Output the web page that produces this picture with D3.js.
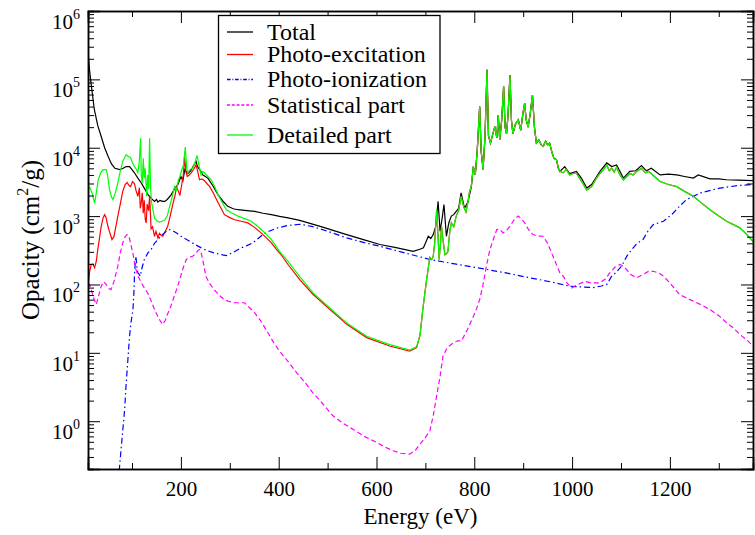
<!DOCTYPE html>
<html>
<head>
<meta charset="utf-8">
<script src="https://cdn.jsdelivr.net/npm/d3@7"></script>
<style>
  body { margin: 0; background: #fff; }
  svg { display: block; }
  svg text { font-family: 'Liberation Serif', 'Times New Roman', Times, serif; }
</style>
</head>
<body>
<div id="chart"></div>
<script>
// total opacity, below the bound-bound forest
const totalLowE = [10, 13, 17, 23, 30, 37, 44, 51, 58, 65, 75, 82, 88, 95, 100, 105, 112, 119, 126, 133, 140, 146, 150, 153, 157, 163, 167, 172, 180, 187, 194, 200, 204, 208, 214, 220, 226, 231, 234, 240, 245, 250, 255, 265, 276, 286, 296, 307, 317, 335, 351, 368, 385, 402, 419, 443, 490, 539, 575, 607, 640, 675, 690, 696, 700, 706, 711, 716, 721, 726, 730, 734, 738, 743, 748, 753, 758, 763, 768, 773, 780, 787, 794]
const totalLowV = [2.5e5, 1.4e5, 7.9e4, 3.6e4, 2.1e4, 1.46e4, 1.0e4, 7.5e3, 5.8e3, 5.0e3, 4.8e3, 5.0e3, 5.3e3, 5.3e3, 4.8e3, 4.3e3, 3.6e3, 3.05e3, 2.5e3, 2.05e3, 1.8e3, 1.64e3, 1.75e3, 1.6e3, 1.7e3, 1.64e3, 1.64e3, 1.75e3, 2.05e3, 2.5e3, 2.9e3, 3.8e3, 3.3e3, 4.8e3, 4.2e3, 4.6e3, 5.5e3, 6.3e3, 5.3e3, 4.6e3, 4.0e3, 3.8e3, 3.6e3, 2.8e3, 2.05e3, 1.65e3, 1.39e3, 1.28e3, 1.24e3, 1.2e3, 1.17e3, 1.1e3, 1.05e3, 990, 942, 866, 690, 537, 450, 384, 345, 306, 330, 345, 400, 507, 470, 537, 700, 1640, 600, 900, 1470, 507, 800, 1000, 1050, 1170, 1300, 2180, 1300, 1600, 2700]
const totalHighE = [975, 985, 995, 1009, 1019, 1030, 1040, 1057, 1071, 1081, 1091, 1105, 1118, 1130, 1142, 1152, 1162, 1180, 1197, 1214, 1230, 1248, 1258, 1282, 1300, 1316, 1340, 1370]
const totalHighV = [4.5e3, 5.3e3, 4.2e3, 4.5e3, 3.6e3, 2.57e3, 2.9e3, 4.5e3, 6.0e3, 5.3e3, 5.6e3, 3.6e3, 4.5e3, 4.6e3, 5.5e3, 4.6e3, 5.0e3, 4.0e3, 4.1e3, 4.0e3, 3.8e3, 3.6e3, 4.0e3, 3.5e3, 3.5e3, 3.4e3, 3.35e3, 3.3e3]

// photo-excitation and detailed part below ~685 eV
const excitationLowE = [10, 13, 16.6, 20, 23.5, 27, 30, 34, 37, 41, 44, 47, 50.7, 55, 59, 63, 67, 71, 76, 81, 86, 90, 94, 97, 101, 105, 108, 112, 115, 117, 119, 121, 123, 125, 127, 129, 131, 134, 136, 139, 142, 146, 149, 153, 156, 160, 163, 168, 173, 178, 184, 188, 191, 195, 198, 202, 205, 207.6, 210, 213, 217, 221, 226, 231, 235, 238, 243, 248, 253, 259, 266, 273, 281, 289, 300, 310, 323, 337, 350, 364, 375, 385, 395, 405, 419, 443, 470, 505, 540, 580, 627, 668, 682]
const excitationLowV = [94, 150, 196, 200, 176, 220, 324, 500, 710, 950, 1050, 950, 710, 560, 454, 500, 700, 1000, 1500, 2300, 2900, 3100, 2800, 2700, 3200, 3000, 2400, 1950, 2600, 1300, 1600, 2200, 1100, 1700, 900, 795, 1500, 1200, 2000, 650, 700, 507, 600, 480, 560, 520, 507, 600, 710, 1000, 1550, 2000, 2700, 2300, 2000, 3000, 4000, 7500, 4500, 3800, 4000, 4300, 4800, 5600, 4300, 3400, 3500, 3300, 3000, 2700, 2200, 1740, 1350, 1050, 950, 885, 840, 795, 690, 569, 480, 405, 330, 272, 196, 118, 72, 43, 26, 16.7, 12.6, 10.6, 11.9]
const detailedLowE = [10, 14, 18, 23.5, 27, 31, 36, 41, 47, 50, 54, 58, 61, 66, 71, 76, 81, 88, 93, 97, 101, 105, 109, 112, 115, 117.5, 119, 121, 123, 125, 127, 130, 132, 134, 136, 138, 140, 143, 146, 151, 156, 162, 167, 172, 177, 182, 187, 191, 195, 198, 202, 205, 209, 212, 214, 219, 224, 229, 233, 237, 241, 245, 248, 255, 262, 270, 276, 285, 293, 305, 317, 330, 344, 355, 364, 375, 385, 402, 419, 443, 470, 505, 540, 580, 627, 668, 682]
const detailedLowV = [2440, 2600, 2200, 1550, 2200, 3400, 4300, 4800, 4800, 4000, 2440, 1900, 1740, 2200, 3050, 4500, 6300, 7900, 7400, 7200, 6000, 5300, 4800, 4300, 6500, 13800, 4000, 3000, 7000, 3600, 5000, 1950, 4000, 2500, 13800, 2500, 1600, 1200, 942, 850, 820, 840, 880, 1000, 1390, 1900, 2700, 2400, 3400, 3800, 4800, 5500, 10200, 5000, 4300, 4800, 5000, 6200, 7700, 5500, 4000, 4500, 4300, 3800, 3400, 2600, 2050, 1550, 1240, 1100, 1000, 920, 841, 730, 636, 540, 454, 303, 218, 130, 76, 45, 27, 17.5, 13.2, 11, 12.3]

// above ~685 eV photo-excitation and detailed part coincide
const upperE = [689, 695, 702, 709, 713, 716, 719, 723, 726, 728, 731, 733, 736, 740, 743, 746, 750, 753, 758, 763, 768, 773, 778, 783, 787, 790, 794, 798, 802, 806, 811, 814, 818, 822, 826, 829, 833, 838, 842, 846, 849, 852, 856, 860, 863, 866, 869, 873, 876, 879, 884, 890, 895, 899, 903, 906, 910, 914, 919, 923, 927, 932, 937, 941, 946, 950, 954, 959, 963, 968, 972, 976, 982, 988, 995, 1002, 1009, 1016, 1022, 1030, 1040, 1050, 1057, 1064, 1071, 1076, 1081, 1086, 1091, 1098, 1105, 1112, 1118, 1125, 1132, 1142, 1150, 1157, 1165, 1180, 1197, 1214, 1230, 1248, 1265, 1282, 1300, 1316, 1330, 1343, 1357, 1370]
const upperV = [18, 45, 110, 250, 232, 258, 400, 1240, 500, 232, 400, 710, 450, 272, 280, 300, 600, 795, 700, 1000, 1200, 1950, 1400, 1150, 1600, 2200, 2800, 5300, 4000, 9000, 4.0e4, 9000, 4800, 1.5e4, 1.38e5, 1.5e4, 1.17e4, 1.6e4, 2.04e4, 1.4e4, 3.0e4, 1.3e4, 2.5e4, 7.9e4, 2.0e4, 1.6e4, 3.0e4, 1.16e5, 2.5e4, 1.6e4, 2.2e4, 2.57e4, 1.8e4, 3.0e4, 4.5e4, 2.6e4, 2.0e4, 3.0e4, 5.9e4, 2.0e4, 1.17e4, 1.3e4, 1.1e4, 1.05e4, 1.25e4, 1.1e4, 1.17e4, 8500, 7000, 6700, 5000, 4500, 4300, 4800, 4000, 4200, 4200, 3500, 3000, 2400, 2700, 3600, 4200, 4800, 5600, 4600, 5000, 4400, 5200, 4000, 3400, 3800, 4200, 4000, 4500, 5000, 4300, 4500, 4000, 3200, 2900, 2700, 2300, 1950, 1550, 1240, 1000, 841, 750, 673, 540, 428]

const ionizationE = [72, 74.6, 80, 85, 88, 91.6, 95, 98, 102, 104, 105, 107, 108, 110, 112, 115, 117, 120, 125, 132.5, 139, 146, 153, 160, 166.7, 172, 177, 185, 192, 200, 215, 230, 241.5, 255, 268, 280, 293, 305, 323, 335, 347, 358, 368, 380, 398, 419, 443, 470, 500, 539, 575, 607, 650, 709, 760, 825, 870, 914, 960, 996, 1020, 1043, 1060, 1071, 1081, 1090, 1101, 1112, 1122, 1133, 1145, 1155, 1166, 1187, 1207, 1220, 1234, 1262, 1302, 1340, 1370]
const ionizationV = [0.12, 0.22, 0.6, 1.5, 3.5, 8, 17.6, 28, 43, 80, 132, 230, 258, 180, 148, 140, 132, 170, 230, 290, 324, 400, 454, 520, 569, 620, 636, 600, 560, 507, 440, 380, 343, 310, 290, 275, 265, 290, 343, 370, 405, 470, 537, 600, 672, 730, 760, 700, 600, 480, 410, 362, 300, 232, 200, 166, 145, 125, 108, 94, 92, 90, 95, 100, 132, 150, 185, 260, 324, 400, 454, 600, 751, 841, 1110, 1400, 1740, 2180, 2570, 2800, 2900]

const statisticalE = [10, 13, 16.6, 21, 27, 32, 37, 42, 47, 52, 57, 63, 71, 76, 81, 86, 90, 94, 97, 102, 108, 113, 119, 125, 132, 139, 146, 153, 158, 163, 168, 172, 177, 184, 191, 198, 204, 211, 218, 224, 230, 235, 238, 242, 247, 251, 258, 268, 278, 289, 300, 310, 320, 330, 340, 351, 365, 378, 390, 402, 419, 437, 455, 470, 490, 511, 530, 552, 575, 600, 617, 634, 650, 668, 680, 689, 700, 709, 716, 723, 730, 736, 745, 757, 766, 774, 786, 798, 805, 811, 818, 825, 832, 840, 846, 852, 859, 866, 873, 882, 890, 896, 903, 910, 920, 930, 941, 950, 961, 970, 975, 982, 990, 999, 1012, 1026, 1040, 1057, 1068, 1077, 1088, 1098, 1105, 1111, 1120, 1132, 1145, 1156, 1166, 1177, 1187, 1200, 1220, 1235, 1248, 1265, 1282, 1300, 1316, 1330, 1343, 1357, 1370]
const statisticalV = [106, 100, 84, 65, 51, 70, 94, 110, 100, 88, 84, 110, 185, 290, 405, 500, 537, 500, 405, 280, 166, 130, 106, 90, 75, 58, 43, 34, 29, 26, 30, 36, 43, 60, 84, 120, 170, 232, 250, 258, 280, 315, 324, 280, 190, 132, 105, 84, 70, 60, 56, 54, 54, 54, 46, 38.5, 28, 19.7, 14, 10.5, 7.5, 5.1, 3.6, 2.6, 1.8, 1.2, 0.95, 0.76, 0.6, 0.49, 0.42, 0.37, 0.34, 0.33, 0.38, 0.46, 0.58, 0.72, 1.2, 2.34, 4.5, 9, 12, 14, 15, 15, 22, 34, 45, 60, 100, 190, 324, 480, 636, 640, 569, 620, 710, 900, 1000, 920, 795, 650, 537, 510, 507, 400, 258, 180, 148, 132, 105, 89, 100, 111, 105, 106, 120, 148, 180, 196, 185, 166, 140, 125, 140, 155, 156, 148, 132, 105, 71, 63, 57, 50, 43, 35, 27.6, 23, 18.6, 15.5, 12.6]

const legendNames = ['Total', 'Photo-excitation', 'Photo-ionization', 'Statistical part', 'Detailed part']
const xTicks = [200, 400, 600, 800, 1000, 1200]
const yTicks = [1e0, 1e1, 1e2, 1e3, 1e4, 1e5, 1e6]

const width = 755
const height = 535
const margin = { top: 11, right: 2, bottom: 66, left: 88 }
const serif = "'Liberation Serif', 'Times New Roman', Times, serif"

const zip = (xs, ys) => xs.map((e, i) => ({ e: e, v: ys[i] }))
const upper = zip(upperE, upperV)
const series = [
  { name: 'Total', color: '#000000', dash: null,
    data: zip(totalLowE, totalLowV).concat(upper.filter(d => d.e >= 798 && d.e < 975), zip(totalHighE, totalHighV)) },
  { name: 'Photo-excitation', color: '#ff0000', dash: null, data: zip(excitationLowE, excitationLowV).concat(upper) },
  { name: 'Photo-ionization', color: '#0000ff', dash: '6,3,1.5,3', data: zip(ionizationE, ionizationV) },
  { name: 'Statistical part', color: '#ff00ff', dash: '5,3', data: zip(statisticalE, statisticalV) },
  { name: 'Detailed part', color: '#00ff00', dash: null, data: zip(detailedLowE, detailedLowV).concat(upper) }
]

const x = d3.scaleLinear()
  .domain([10, 1370])
  .range([margin.left, width - margin.right])

const y = d3.scaleLog()
  .domain([0.2, 1e6])
  .range([height - margin.bottom, margin.top])

const svg = d3.select('#chart')
  .append('svg')
  .attr('width', width)
  .attr('height', height)
  .style('font-family', serif)

svg.append('defs').append('clipPath')
  .attr('id', 'plot')
  .append('rect')
  .attr('x', margin.left)
  .attr('y', margin.top)
  .attr('width', width - margin.left - margin.right)
  .attr('height', height - margin.top - margin.bottom)

const line = d3.line()
  .x(d => x(d.e))
  .y(d => y(d.v))

svg.append('g')
  .attr('clip-path', 'url(#plot)')
  .selectAll('path')
  .data(series)
  .enter()
  .append('path')
  .attr('d', d => line(d.data))
  .attr('fill', 'none')
  .attr('stroke', d => d.color)
  .attr('stroke-width', 1.2)
  .attr('stroke-dasharray', d => d.dash)

// axes: ticks point inward on all four sides
const minorX = d3.range(100, 1400, 100).filter(v => v % 200 !== 0)
const minorY = []
for (let p = -1; p < 6; p++) {
  for (let k = 2; k <= 9; k++) {
    const v = k * Math.pow(10, p)
    if (v >= 0.2 && v <= 1e6) minorY.push(v)
  }
}

const axisB = svg.append('g')
  .attr('transform', `translate(0,${height - margin.bottom})`)
axisB.call(d3.axisBottom(x).tickValues(xTicks).tickSize(-12).tickPadding(12).tickFormat(d3.format('d')))
axisB.append('g').call(d3.axisBottom(x).tickValues(minorX).tickSize(-6).tickFormat(''))

const axisT = svg.append('g')
  .attr('transform', `translate(0,${margin.top})`)
axisT.call(d3.axisTop(x).tickValues(xTicks).tickSize(-12).tickFormat(''))
axisT.append('g').call(d3.axisTop(x).tickValues(minorX).tickSize(-6).tickFormat(''))

const axisL = svg.append('g')
  .attr('transform', `translate(${margin.left},0)`)
axisL.call(d3.axisLeft(y).tickValues(yTicks).tickSize(-12).tickFormat(''))
axisL.append('g').call(d3.axisLeft(y).tickValues(minorY).tickSize(-6).tickFormat(''))

const axisR = svg.append('g')
  .attr('transform', `translate(${width - margin.right},0)`)
axisR.call(d3.axisRight(y).tickValues(yTicks).tickSize(-12).tickFormat(''))
axisR.append('g').call(d3.axisRight(y).tickValues(minorY).tickSize(-6).tickFormat(''))

svg.selectAll('.domain').attr('stroke', '#000').attr('stroke-width', 1.5)
svg.selectAll('.tick line').attr('stroke', '#000').attr('stroke-width', 1)
svg.selectAll('g').attr('font-family', serif)
axisB.selectAll('.tick text')
  .attr('font-size', 21)
  .attr('fill', '#000')

// y tick labels as 10 with superscript exponent
const yLabels = svg.append('g')
  .selectAll('text')
  .data(yTicks)
  .enter()
  .append('text')
  .attr('x', 80)
  .attr('y', d => y(d) + 18)
  .attr('text-anchor', 'end')
  .attr('font-size', 21)
yLabels.append('tspan').text('10')
yLabels.append('tspan')
  .attr('font-size', 14)
  .attr('dy', -10)
  .text(d => Math.round(Math.log10(d)))

svg.append('text')
  .attr('x', (margin.left + width - margin.right) / 2)
  .attr('y', 524)
  .attr('text-anchor', 'middle')
  .attr('font-size', 23)
  .text('Energy (eV)')

const yTitle = svg.append('text')
  .attr('transform', `translate(39,${(margin.top + height - margin.bottom) / 2}) rotate(-90)`)
  .attr('text-anchor', 'middle')
  .attr('font-size', 25)
yTitle.append('tspan').text('Opacity (cm')
yTitle.append('tspan').attr('font-size', 16).attr('dy', -11).text('2')
yTitle.append('tspan').attr('dy', 11).text('/g)')

// legend
const legend = svg.append('g')
legend.append('rect')
  .attr('x', 218.5)
  .attr('y', 15.5)
  .attr('width', 221.5)
  .attr('height', 138)
  .attr('fill', '#fff')
  .attr('stroke', '#000')
  .attr('stroke-width', 1.3)

const rowY = d3.scaleOrdinal()
  .domain(legendNames)
  .range([32, 54.5, 79.5, 105, 135])

const rows = legend.selectAll('g.row')
  .data(series)
  .enter()
  .append('g')
  .attr('class', 'row')
  .attr('transform', d => `translate(0,${rowY(d.name)})`)

rows.append('line')
  .attr('x1', 227)
  .attr('x2', 253)
  .attr('stroke', d => d.color)
  .attr('stroke-width', 1.3)
  .attr('stroke-dasharray', d => d.dash ? d.dash.split(',').map(v => v * 0.6).join(',') : null)

rows.append('text')
  .attr('x', 267)
  .attr('y', 7.5)
  .attr('font-size', 24)
  .attr('font-family', serif)
  .text(d => d.name)
</script>
</body>
</html>
